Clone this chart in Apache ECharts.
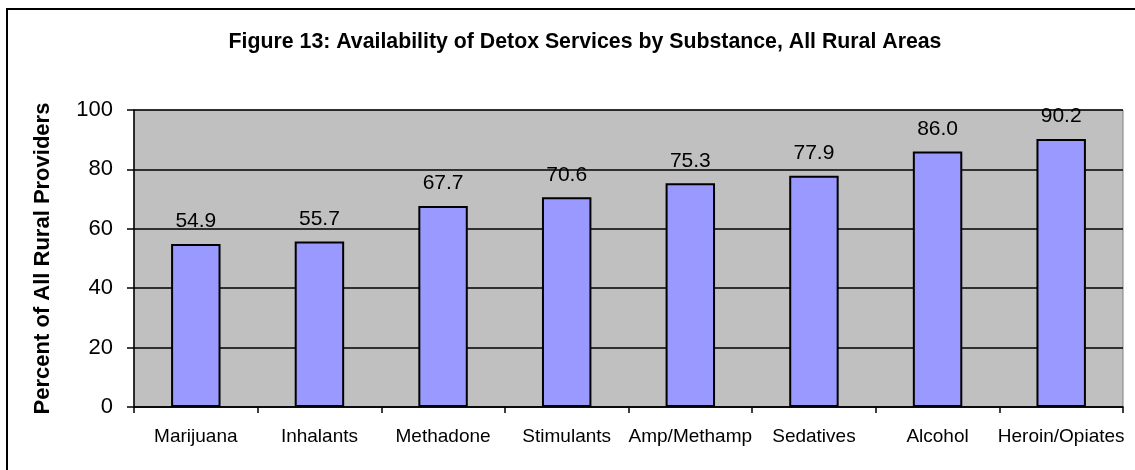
<!DOCTYPE html>
<html><head><meta charset="utf-8">
<script src="https://cdn.jsdelivr.net/npm/echarts@6/dist/echarts.min.js"></script>
<style>html,body{margin:0;padding:0;background:#fff}#c{width:1135px;height:470px}</style>
</head><body><div id="c"></div>
<script>
var categories = ['Marijuana','Inhalants','Methadone','Stimulants','Amp/Methamp','Sedatives','Alcohol','Heroin/Opiates'];
var values = [54.9, 55.7, 67.7, 70.6, 75.3, 77.9, 86.0, 90.2];
var titleText = 'Figure 13: Availability of Detox Services by Substance, All Rural Areas';
var yAxisName = 'Percent of All Rural Providers';

var chart = echarts.init(document.getElementById('c'), null, {renderer:'canvas'});
var FONT = 'Liberation Sans, Arial, sans-serif';
chart.setOption({
  animation: false,
  backgroundColor: '#ffffff',
  textStyle: {fontFamily: FONT},
  title: {
    text: titleText, left: 580, textAlign: 'center', top: 27,
    textStyle: {fontFamily: FONT, fontSize: 21.3, fontWeight: 'bold', color: '#000'}
  },
  graphic: [
    {type:'rect', shape:{x:7, y:9, width:1300, height:600}, style:{fill:'none', stroke:'#000', lineWidth:2}, z:100}
  ],
  grid: {left: 134, right: 12, top: 110, bottom: 63, show: true, backgroundColor: '#C0C0C0', borderColor: '#808080', borderWidth: 1},
  xAxis: {
    type: 'category', data: categories, boundaryGap: true,
    axisLine: {lineStyle: {color: '#000', width: 1.5}},
    axisTick: {show: true, alignWithLabel: false, length: 6, lineStyle: {color: '#000', width: 1.5}},
    axisLabel: {color: '#000', fontSize: 19, margin: 20, interval: 0, fontFamily: FONT}
  },
  yAxis: {
    type: 'value', min: 0, max: 100, interval: 20,
    name: yAxisName, nameLocation: 'middle', nameGap: 80, nameRotate: 90,
    nameTextStyle: {fontSize: 22, fontWeight: 'bold', color: '#000', fontFamily: FONT},
    axisLine: {show: true, lineStyle: {color: '#000', width: 1.5}},
    axisTick: {show: true, length: 7, lineStyle: {color: '#000', width: 1.5}},
    axisLabel: {color: '#000', fontSize: 22, margin: 21, fontFamily: FONT},
    splitLine: {show: true, lineStyle: {color: '#000', width: 1.5}}
  },
  series: [{
    type: 'bar', data: values, barWidth: '40%',
    itemStyle: {color: '#9999FF', borderColor: '#000', borderWidth: 2},
    label: {show: true, position: 'top', distance: 12, color: '#000', fontSize: 21, fontFamily: FONT,
      formatter: function(p){ return p.value.toFixed(1); }}
  }]
});
</script></body></html>
